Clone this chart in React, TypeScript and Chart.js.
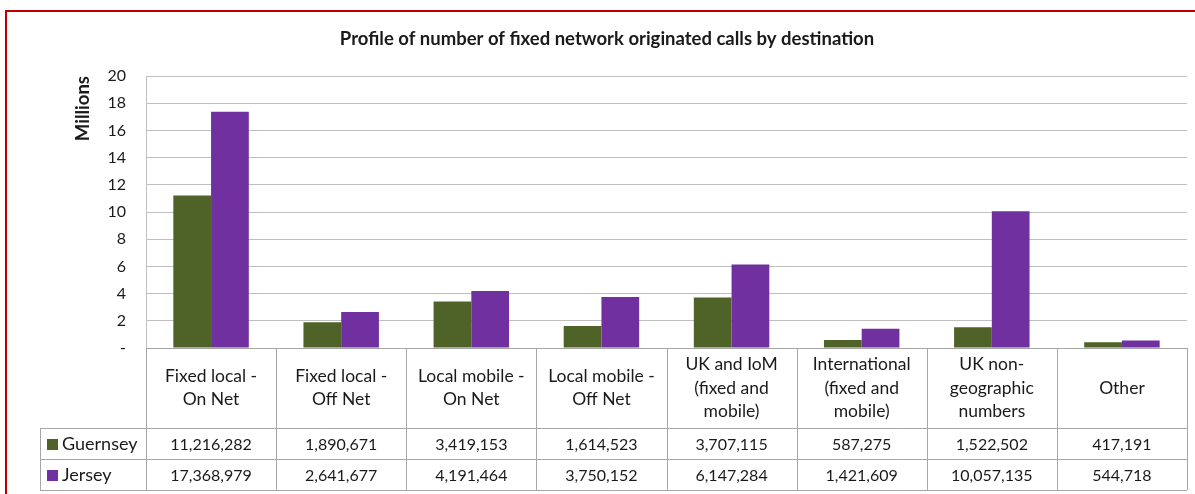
import React, { useEffect, useRef } from "react";
import { Chart, registerables } from "chart.js";

Chart.register(...registerables);

const titleText = "Profile of number of fixed network originated calls by destination";
const yAxisTitle = "Millions";
const seriesNames = ["Guernsey", "Jersey"];
const seriesColors = ["#4F6228", "#7030A0"];
const categories: string[][] = [
  ["Fixed local -", "On Net"],
  ["Fixed local -", "Off Net"],
  ["Local mobile -", "On Net"],
  ["Local mobile -", "Off Net"],
  ["UK and IoM", "(fixed and", "mobile)"],
  ["International", "(fixed and", "mobile)"],
  ["UK non-", "geographic", "numbers"],
  ["Other"],
];
const guernsey = [11216282, 1890671, 3419153, 1614523, 3707115, 587275, 1522502, 417191];
const jersey = [17368979, 2641677, 4191464, 3750152, 6147284, 1421609, 10057135, 544718];
const yTickLabels = ["-", "2", "4", "6", "8", "10", "12", "14", "16", "18", "20"];

const FONT = "Lato, 'Noto Sans', sans-serif";
const TEXT = "#1a1a1a";
const GRID = "#BFBFBF";
const TABLE = "#A6A6A6";

const tablePlugin = {
  id: "dataTable",
  beforeDraw(chart: any) {
    const ctx = chart.ctx;
    ctx.save();
    ctx.fillStyle = "#fff";
    ctx.fillRect(0, 0, chart.width, chart.height);
    // red frame
    ctx.strokeStyle = "#C00000";
    ctx.lineWidth = 2;
    ctx.beginPath();
    ctx.moveTo(6, chart.height);
    ctx.lineTo(6, 11);
    ctx.lineTo(chart.width, 11);
    ctx.stroke();
    // title
    ctx.fillStyle = TEXT;
    ctx.font = `bold 18.5px ${FONT}`;
    ctx.textAlign = "center";
    ctx.textBaseline = "middle";
    ctx.fillText(titleText, 607, 39);
    ctx.restore();
  },
  afterDraw(chart: any) {
    const ctx = chart.ctx;
    const area = chart.chartArea;
    const x = chart.scales.x;
    const n = categories.length;
    const colW = (area.right - area.left) / n;
    const top = area.bottom;
    const headerBottom = top + 80;
    const row1 = headerBottom + 31;
    const row2 = row1 + 31;
    const legendLeft = 40;
    ctx.save();
    ctx.strokeStyle = TABLE;
    ctx.lineWidth = 1;
    const hline = (y: number, x0: number, x1: number) => {
      ctx.beginPath();
      ctx.moveTo(x0, Math.round(y) + 0.5);
      ctx.lineTo(x1, Math.round(y) + 0.5);
      ctx.stroke();
    };
    const vline = (xx: number, y0: number, y1: number) => {
      ctx.beginPath();
      ctx.moveTo(Math.round(xx) + 0.5, y0);
      ctx.lineTo(Math.round(xx) + 0.5, y1);
      ctx.stroke();
    };
    hline(top, area.left, area.right);
    hline(headerBottom, legendLeft, area.right);
    hline(row1, legendLeft, area.right);
    hline(row2, legendLeft, area.right);
    vline(legendLeft, headerBottom, row2);
    for (let i = 0; i <= n; i++) {
      vline(area.left + i * colW, top, row2);
    }
    ctx.fillStyle = TEXT;
    ctx.font = `17.5px ${FONT}`;
    ctx.textAlign = "center";
    ctx.textBaseline = "middle";
    const lh = 23.5;
    const hc = (top + headerBottom) / 2;
    categories.forEach((lines, i) => {
      const cx = x.getPixelForValue(i);
      lines.forEach((ln, j) => {
        ctx.fillText(ln, cx, hc + (j - (lines.length - 1) / 2) * lh);
      });
    });
    const rows = [guernsey, jersey];
    rows.forEach((vals, r) => {
      const cy = (r === 0 ? (headerBottom + row1) / 2 : (row1 + row2) / 2) + 1;
      ctx.textAlign = "center";
      ctx.fillStyle = TEXT;
      ctx.font = `16px ${FONT}`;
      vals.forEach((v, i) => {
        ctx.fillText(v.toLocaleString("en-US"), x.getPixelForValue(i), cy);
      });
      ctx.fillStyle = seriesColors[r];
      ctx.fillRect(47, Math.round(cy - 5.5), 11, 11);
      ctx.fillStyle = TEXT;
      ctx.textAlign = "left";
      ctx.font = `18px ${FONT}`;
      ctx.fillText(seriesNames[r], 62, cy);
    });
    ctx.restore();
  },
};

export default function App() {
  const ref = useRef<HTMLCanvasElement | null>(null);
  useEffect(() => {
    document.body.style.margin = "0";
    if (!ref.current) return;
    const chart = new Chart(ref.current, {
      type: "bar",
      data: {
        labels: categories.map((c) => c.join(" ")),
        datasets: [
          { label: seriesNames[0], data: guernsey, backgroundColor: seriesColors[0] },
          { label: seriesNames[1], data: jersey, backgroundColor: seriesColors[1] },
        ],
      },
      options: {
        animation: false,
        responsive: false,
        layout: { padding: { left: 70, right: 8, top: 76, bottom: 146 } },
        plugins: { legend: { display: false }, title: { display: false }, tooltip: { enabled: false } },
        datasets: { bar: { categoryPercentage: 0.58, barPercentage: 1 } },
        scales: {
          x: { display: false, offset: true },
          y: {
            min: 0,
            max: 20000000,
            afterFit(scale: any) {
              scale.width = 76;
            },
            border: { color: GRID },
            grid: { color: GRID, drawTicks: false },
            ticks: {
              stepSize: 2000000,
              padding: 20,
              color: TEXT,
              font: { family: FONT, size: 16 },
              callback: (v: any) => yTickLabels[Math.round(Number(v) / 2000000)],
            },
            title: {
              display: true,
              text: yAxisTitle,
              align: "end",
              color: TEXT,
              font: { family: FONT, size: 18.5, weight: "bold" },
              padding: { top: 2, bottom: 0 },
            },
          },
        },
      },
      plugins: [tablePlugin],
    });
    return () => chart.destroy();
  }, []);
  return <canvas ref={ref} width={1195} height={494} style={{ display: "block" }} />;
}
